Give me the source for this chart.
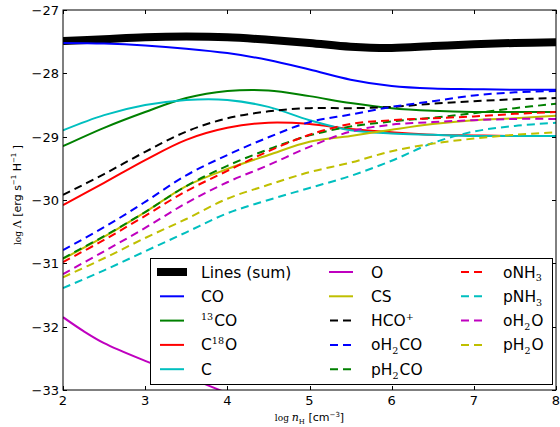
<!DOCTYPE html>
<html>
<head>
<meta charset="utf-8">
<script src="https://cdn.jsdelivr.net/npm/d3@7"></script>
<style>
  body { margin: 0; background: #fff; }
  text { font-family: "DejaVu Sans", sans-serif; }
</style>
</head>
<body>
<div id="chart"></div>
<script>
// log n_H grid
const logN = [2, 2.5, 3, 3.5, 4, 4.5, 5, 5.5, 6, 6.5, 7, 7.5, 8];

const linesSum = [-27.49, -27.46, -27.43, -27.42, -27.43, -27.47, -27.52, -27.58, -27.6, -27.57, -27.54, -27.52, -27.51];
const co = [-27.52, -27.53, -27.56, -27.61, -27.68, -27.79, -27.94, -28.1, -28.2, -28.24, -28.25, -28.26, -28.26];
const co13 = [-29.15, -28.86, -28.61, -28.39, -28.28, -28.27, -28.36, -28.47, -28.55, -28.59, -28.61, -28.61, -28.61];
const c18o = [-30.08, -29.73, -29.37, -29.05, -28.86, -28.78, -28.8, -28.88, -28.93, -28.97, -28.98, -28.99, -28.99];
const cAtom = [-28.9, -28.66, -28.5, -28.42, -28.42, -28.53, -28.74, -28.9, -28.95, -28.97, -28.99, -28.99, -28.99];
const oAtomN = [2, 2.25, 2.5, 3, 3.5, 4];
const oAtom = [-31.85, -32.07, -32.26, -32.54, -32.79, -33.05];
const cs = [-30.93, -30.58, -30.19, -29.78, -29.51, -29.29, -29.08, -28.99, -28.89, -28.8, -28.74, -28.71, -28.67];
const hcop = [-29.92, -29.59, -29.24, -28.92, -28.71, -28.6, -28.55, -28.55, -28.53, -28.48, -28.44, -28.41, -28.39];
const oH2CO = [-30.79, -30.43, -30.03, -29.61, -29.29, -29.01, -28.77, -28.65, -28.53, -28.44, -28.35, -28.3, -28.28];
const pH2CO = [-30.92, -30.57, -30.19, -29.78, -29.46, -29.2, -28.98, -28.84, -28.76, -28.7, -28.63, -28.55, -28.48];
const oNH3 = [-30.98, -30.63, -30.25, -29.86, -29.54, -29.23, -28.97, -28.8, -28.74, -28.71, -28.68, -28.64, -28.61];
const pNH3 = [-31.39, -31.11, -30.81, -30.51, -30.21, -30.0, -29.81, -29.62, -29.38, -29.1, -28.92, -28.83, -28.78];
const oH2O = [-31.17, -30.81, -30.44, -30.05, -29.72, -29.45, -29.16, -28.92, -28.81, -28.77, -28.74, -28.72, -28.72];
const pH2O = [-31.22, -30.92, -30.6, -30.3, -29.98, -29.76, -29.56, -29.41, -29.23, -29.11, -29.03, -28.97, -28.93];

const xTicks = [2, 3, 4, 5, 6, 7, 8];
const yTicks = [-27, -28, -29, -30, -31, -32, -33];

// label markup: ^{..} superscript, _{..} subscript
const series = [
  { name: "Lines (sum)", x: logN, y: linesSum, color: "#000000", dash: false, width: 8 },
  { name: "CO", x: logN, y: co, color: "#0000ff", dash: false, width: 2 },
  { name: "^{13}CO", x: logN, y: co13, color: "#008000", dash: false, width: 2 },
  { name: "C^{18}O", x: logN, y: c18o, color: "#ff0000", dash: false, width: 2 },
  { name: "C", x: logN, y: cAtom, color: "#00bfbf", dash: false, width: 2 },
  { name: "O", x: oAtomN, y: oAtom, color: "#bf00bf", dash: false, width: 2 },
  { name: "CS", x: logN, y: cs, color: "#bfbf00", dash: false, width: 2 },
  { name: "HCO^{+}", x: logN, y: hcop, color: "#000000", dash: true, width: 2 },
  { name: "oH_{2}CO", x: logN, y: oH2CO, color: "#0000ff", dash: true, width: 2 },
  { name: "pH_{2}CO", x: logN, y: pH2CO, color: "#008000", dash: true, width: 2 },
  { name: "oNH_{3}", x: logN, y: oNH3, color: "#ff0000", dash: true, width: 2 },
  { name: "pNH_{3}", x: logN, y: pNH3, color: "#00bfbf", dash: true, width: 2 },
  { name: "oH_{2}O", x: logN, y: oH2O, color: "#bf00bf", dash: true, width: 2 },
  { name: "pH_{2}O", x: logN, y: pH2O, color: "#bfbf00", dash: true, width: 2 },
];

const width = 560;
const height = 427;
const margin = { left: 63, right: 4, top: 10, bottom: 37 };
const dashArray = "8,5";

const xScale = d3
  .scaleLinear()
  .domain([2, 8])
  .range([margin.left, width - margin.right]);

const yScale = d3
  .scaleLinear()
  .domain([-33, -27])
  .range([height - margin.bottom, margin.top]);

const svg = d3
  .select("#chart")
  .append("svg")
  .attr("width", width)
  .attr("height", height);

svg
  .append("clipPath")
  .attr("id", "plotClip")
  .append("rect")
  .attr("x", margin.left)
  .attr("y", margin.top)
  .attr("width", xScale(8) - xScale(2))
  .attr("height", yScale(-33) - yScale(-27));

// writes "C^{18}O" style markup into a text node as tspans
const addRich = (textSel, label, size) => {
  const parts = label.split(/(\^\{[^}]*\}|_\{[^}]*\})/).filter((p) => p !== "");
  let shift = 0;
  parts.forEach((p) => {
    let content = p;
    let dy = 0;
    let small = false;
    if (p.startsWith("^{")) {
      content = p.slice(2, -1);
      dy = -size * 0.4;
      small = true;
    } else if (p.startsWith("_{")) {
      content = p.slice(2, -1);
      dy = size * 0.25;
      small = true;
    }
    textSel
      .append("tspan")
      .attr("dy", dy - shift)
      .style("font-size", small ? size * 0.62 + "px" : size + "px")
      .style("font-family", small ? "'DejaVu Serif', serif" : null)
      .text(small ? content.replace("-", "\u2212") : content);
    shift = dy;
    if (small) {
      // small gap after a script, like mathtext
      textSel.append("tspan").attr("dy", -shift).style("font-size", "3px").text("\u00a0");
      shift = 0;
    }
  });
};

const line = (s) =>
  d3
    .line()
    .curve(d3.curveCatmullRom.alpha(0.5))
    .x((d, i) => xScale(s.x[i]))
    .y((d) => yScale(d));

const lines = svg.append("g").attr("clip-path", "url(#plotClip)");

lines
  .selectAll("path")
  .data(series)
  .enter()
  .append("path")
  .attr("d", (s) => line(s)(s.y))
  .style("fill", "none")
  .style("stroke", (s) => s.color)
  .style("stroke-width", (s) => s.width)
  .style("stroke-dasharray", (s) => (s.dash ? dashArray : null));

// axes box and inward ticks on all four sides
const tickLen = 4;
const axes = svg.append("g");

axes
  .append("rect")
  .attr("x", margin.left)
  .attr("y", margin.top)
  .attr("width", xScale(8) - xScale(2))
  .attr("height", yScale(-33) - yScale(-27))
  .style("fill", "none")
  .style("stroke", "#000")
  .style("stroke-width", 1);

xTicks.forEach((t) => {
  const x = Math.round(xScale(t)) + 0.5;
  axes.append("line").attr("x1", x).attr("x2", x)
    .attr("y1", yScale(-33)).attr("y2", yScale(-33) - tickLen).style("stroke", "#000");
  axes.append("line").attr("x1", x).attr("x2", x)
    .attr("y1", yScale(-27)).attr("y2", yScale(-27) + tickLen).style("stroke", "#000");
  axes.append("text")
    .attr("x", xScale(t))
    .attr("y", yScale(-33) + 15)
    .attr("text-anchor", "middle")
    .style("font-size", "13px")
    .text(t);
});

yTicks.forEach((t) => {
  const y = Math.round(yScale(t)) + 0.5;
  axes.append("line").attr("x1", xScale(2)).attr("x2", xScale(2) + tickLen)
    .attr("y1", y).attr("y2", y).style("stroke", "#000");
  axes.append("line").attr("x1", xScale(8)).attr("x2", xScale(8) - tickLen)
    .attr("y1", y).attr("y2", y).style("stroke", "#000");
  axes.append("text")
    .attr("x", xScale(2) - 4)
    .attr("y", yScale(t) + 5)
    .attr("text-anchor", "end")
    .style("font-size", "13px")
    .text(String(t).replace("-", "\u2212"));
});

// axis labels
const xLabel = svg
  .append("text")
  .attr("x", (xScale(2) + xScale(8)) / 2)
  .attr("y", 421)
  .attr("text-anchor", "middle")
  .style("font-size", "11px");
xLabel.append("tspan").style("font-family", "'DejaVu Serif', serif").style("font-size", "9px").text("log ");
xLabel.append("tspan").style("font-family", "'DejaVu Serif', serif").style("font-style", "italic").text("n");
xLabel.append("tspan").attr("dy", 3).style("font-family", "'DejaVu Serif', serif").style("font-size", "7px").text("H");
xLabel.append("tspan").attr("dy", -3).text(" [cm");
xLabel.append("tspan").attr("dy", -4).style("font-size", "7px").text("\u22123");
xLabel.append("tspan").attr("dy", 4).text("]");

const yLabel = svg
  .append("text")
  .attr("transform", `translate(21, ${(yScale(-27) + yScale(-33)) / 2 - 5}) rotate(-90)`)
  .attr("text-anchor", "middle")
  .style("font-size", "11px");
yLabel.append("tspan").style("font-family", "'DejaVu Serif', serif").style("font-size", "9px").text("log ");
yLabel.append("tspan").style("font-family", "'DejaVu Serif', serif").text("\u039b ");
yLabel.append("tspan").text("[erg s");
yLabel.append("tspan").attr("dy", -5).style("font-size", "7px").text("\u22121");
yLabel.append("tspan").attr("dy", 5).text("  H");
yLabel.append("tspan").attr("dy", -5).style("font-size", "7px").text("\u22121");
yLabel.append("tspan").attr("dy", 5).text(" ]");

// legend
const legendBox = { x: 150, y: 258, w: 402, h: 126 };
const colX = [161, 330, 461];
const textX = [201, 371, 503];
const rowY0 = 272;
const rowStep = 24.3;
const handleLen = 22;
const legendFont = 15.5;

const legend = svg.append("g");
legend
  .append("rect")
  .attr("x", legendBox.x + 0.5)
  .attr("y", legendBox.y + 0.5)
  .attr("width", legendBox.w)
  .attr("height", legendBox.h)
  .style("fill", "#fff")
  .style("stroke", "#000")
  .style("stroke-width", 1);

series.forEach((s, i) => {
  const col = i < 5 ? 0 : i < 10 ? 1 : 2;
  const row = i < 5 ? i : i < 10 ? i - 5 : i - 10;
  const y = rowY0 + row * rowStep;
  legend
    .append("line")
    .attr("x1", colX[col])
    .attr("x2", colX[col] + handleLen)
    .attr("y1", y)
    .attr("y2", y)
    .style("stroke", s.color)
    .style("stroke-width", s.width)
    .style("stroke-linecap", s.dash ? "butt" : "square")
    .style("stroke-dasharray", s.dash ? dashArray : null);
  const label = legend
    .append("text")
    .attr("x", textX[col])
    .attr("y", y + 5.5);
  addRich(label, s.name, legendFont);
});
</script>
</body>
</html>
